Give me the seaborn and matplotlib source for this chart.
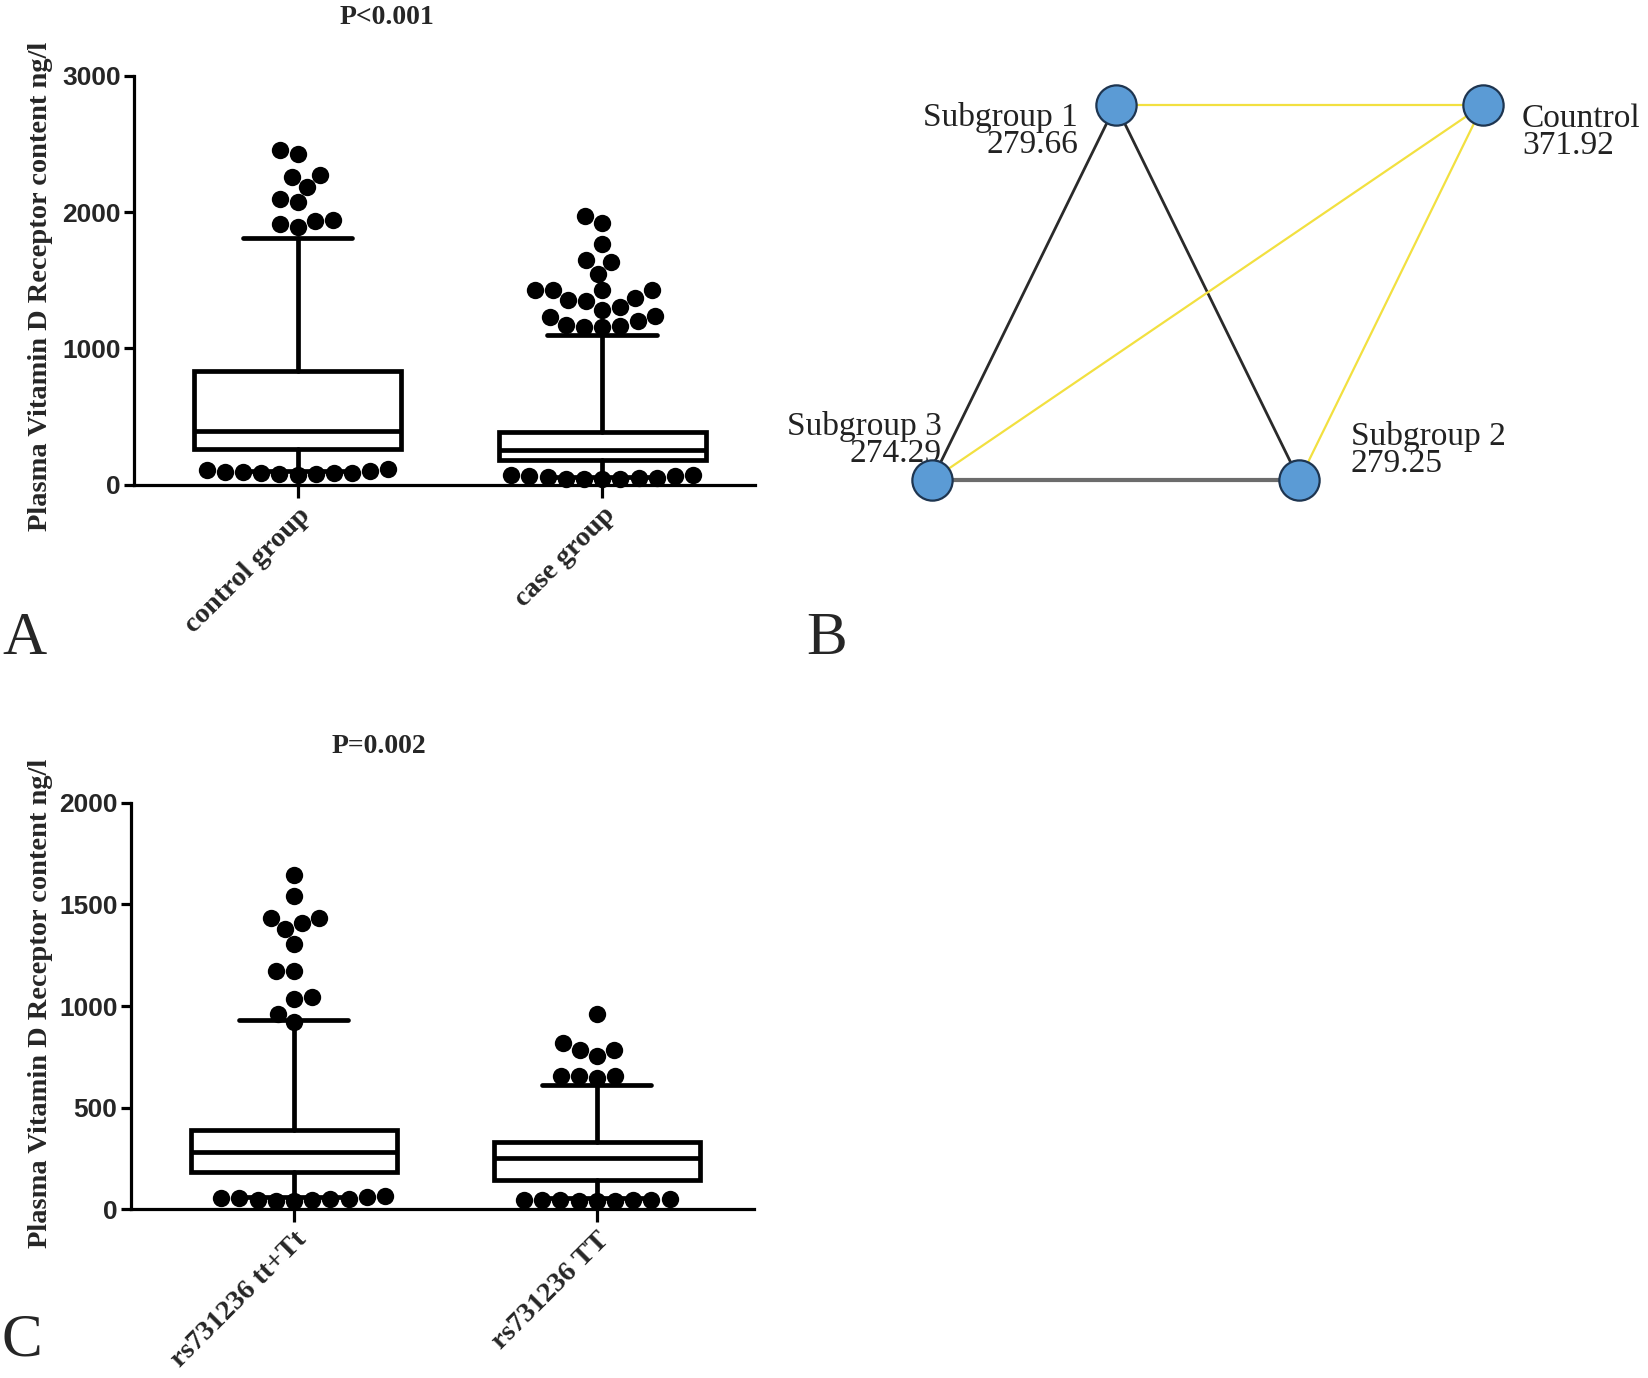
import numpy as np
import pandas as pd
import matplotlib
matplotlib.use("Agg")
import matplotlib.pyplot as plt
import seaborn as sns

# ---------------- data ----------------
# Panel A
a_groups = ["control group", "case group"]
a_whislo = [100, 55]
a_q1 = [263, 180]
a_med = [395, 252]
a_q3 = [835, 385]
a_whishi = [1811, 1101]
control_out = [2455, 2423, 2270, 2258, 2184, 2094, 2074, 1944, 1931, 1914, 1890,
               110, 88, 118, 80, 92, 75, 85, 70, 90, 98, 83]
case_out = [1972, 1922, 1767, 1645, 1636, 1548, 1431, 1431, 1428, 1425, 1373, 1358,
            1344, 1300, 1285, 1236, 1227, 1198, 1169, 1163, 1154, 1160,
            40, 55, 38, 60, 42, 68, 50, 62, 45, 72, 48]
a_title = "P<0.001"
a_yticks = [0, 1000, 2000, 3000]

# Panel C
c_groups = ["rs731236 tt+Tt", "rs731236 TT"]
c_whislo = [60, 58]
c_q1 = [185, 146]
c_med = [283, 252]
c_q3 = [392, 330]
c_whishi = [932, 612]
tt_out = [1647, 1544, 1433, 1433, 1408, 1379, 1305, 1175, 1175, 1043, 1033, 961, 922,
          48, 40, 55, 42, 62, 52, 58, 46, 66, 51]
TT_out = [961, 819, 786, 786, 753, 656, 656, 645, 656,
          45, 42, 47, 50, 44, 48, 43, 46, 45]
c_title = "P=0.002"
c_yticks = [0, 500, 1000, 1500, 2000]

ylabel = "Plasma Vitamin D Receptor content ng/l"

# Panel B (network)
node_names = ["Subgroup 3", "Subgroup 1", "Subgroup 2", "Countrol"]
node_values = ["274.29", "279.66", "279.25", "371.92"]
node_col = [0, 1, 2, 3]        # layout column
node_row = [0, 1, 0, 1]        # layout row
edges_from = ["Subgroup 1", "Subgroup 1", "Subgroup 1", "Subgroup 3", "Subgroup 2", "Subgroup 3"]
edges_to = ["Countrol", "Subgroup 3", "Subgroup 2", "Countrol", "Countrol", "Subgroup 2"]
edges_kind = ["light", "dark", "dark", "light", "light", "mid"]

# ---------------- style ----------------
sns.set_style("ticks")
plt.rcParams["font.family"] = ["Liberation Serif", "DejaVu Serif"]

W, H = 1648, 1378
fig = plt.figure(figsize=(W / 100, H / 100), dpi=100)
fig.patch.set_facecolor("white")

LW = 3.4
TICKFONT = dict(family="Liberation Sans", weight="bold", size=19)


def box_panel(rect, groups, wlo, q1, med, q3, whi, outs, yticks, xlim):
    ax = fig.add_axes(rect)
    df = pd.DataFrame({
        "group": sum([[g] * len(o) for g, o in zip(groups, outs)], []),
        "value": sum([list(o) for o in outs], []),
    })
    sns.swarmplot(data=df, x="group", y="value", order=groups, color="black",
                  size=12.5, linewidth=0, ax=ax, warn_thresh=1.0, zorder=5)
    for c in ax.collections:
        c.set_clip_on(False)
    stats = [dict(whislo=a, q1=b, med=m, q3=d, whishi=e, label=g)
             for a, b, m, d, e, g in zip(wlo, q1, med, q3, whi, groups)]
    ax.bxp(stats, positions=list(range(len(groups))), widths=0.68, capwidths=0.36,
           showfliers=False, patch_artist=True, manage_ticks=False,
           boxprops=dict(facecolor="white", edgecolor="black", linewidth=LW),
           medianprops=dict(color="black", linewidth=LW),
           whiskerprops=dict(color="black", linewidth=LW),
           capprops=dict(color="black", linewidth=LW), zorder=3)
    ax.set_ylim(yticks[0], yticks[-1])
    ax.set_xlim(*xlim)
    ax.set_yticks(yticks)
    ax.set_yticklabels([str(t) for t in yticks], fontdict=TICKFONT)
    ax.set_xticks(range(len(groups)))
    ax.set_xticklabels(groups, rotation=45, ha="right", rotation_mode="anchor",
                       fontsize=20.5, fontweight="bold", family="Liberation Serif")
    ax.set_xlabel("")
    ax.set_ylabel("")
    for s in ["top", "right"]:
        ax.spines[s].set_visible(False)
    for s in ["left", "bottom"]:
        ax.spines[s].set_linewidth(2.3)
        ax.spines[s].set_color("black")
    ax.tick_params(axis="y", length=7, width=2.3, color="black", pad=3)
    ax.tick_params(axis="x", length=9, width=2.3, color="black", pad=4)
    ax.set_facecolor("white")
    ax.grid(False)
    return ax


axA = box_panel([0.0816, 0.6483, 0.3763, 0.2967], a_groups, a_whislo, a_q1, a_med,
                a_q3, a_whishi, [control_out, case_out], a_yticks, (-0.535, 1.5))
axC = box_panel([0.0797, 0.1223, 0.378, 0.2951], c_groups, c_whislo, c_q1, c_med,
                c_q3, c_whishi, [tt_out, TT_out], c_yticks, (-0.537, 1.52))

fig.text(0.2347, 0.987, a_title, ha="center", va="center", fontsize=20, fontweight="bold")
fig.text(0.2302, 0.458, c_title, ha="center", va="center", fontsize=20, fontweight="bold")
fig.text(0.0245, 0.792, ylabel, rotation=90, ha="center", va="center", fontsize=20.5,
         fontweight="bold")
fig.text(0.0245, 0.272, ylabel, rotation=90, ha="center", va="center", fontsize=20.5,
         fontweight="bold")

# panel letters
for lx, ly, letter in [(2 / W, 1 - 654 / H, "A"), (806 / W, 1 - 654 / H, "B"),
                       (2 / W, 1 - 1356 / H, "C")]:
    fig.text(lx, ly, letter, ha="left", va="baseline", fontsize=44)

# ---------------- panel B ----------------
axB = fig.add_axes([852 / W, 1 - 540 / H, 711 / W, 495 / H])
axB.set_xlim(-80 / 183.67, 3 + 80 / 183.67)
axB.set_ylim(-0.16, 1.16)
axB.axis("off")
pos = {n: (c, r) for n, c, r in zip(node_names, node_col, node_row)}
edge_style = {"light": dict(color="#F2E040", lw=1.6),
              "dark": dict(color="#2A2A2A", lw=2.0),
              "mid": dict(color="#6C6C6C", lw=3.0)}
for f, t, k in zip(edges_from, edges_to, edges_kind):
    (x0, y0), (x1, y1) = pos[f], pos[t]
    sns.lineplot(x=[x0, x1], y=[y0, y1], ax=axB, sort=False, color=edge_style[k]["color"],
                 linewidth=edge_style[k]["lw"], zorder=2)
nx = [pos[n][0] for n in node_names]
ny = [pos[n][1] for n in node_names]
sns.scatterplot(x=nx, y=ny, ax=axB, s=29 ** 2, color="#5B9BD5", edgecolor="#1E3550",
                linewidth=1.6, zorder=4, clip_on=False)
label_offsets = {"Subgroup 1": ((-27, 2), "right", "top"),
                 "Countrol": ((28, 1), "left", "top"),
                 "Subgroup 3": ((7, 8), "right", "bottom"),
                 "Subgroup 2": ((37, 1), "left", "bottom")}
for n, v in zip(node_names, node_values):
    off, ha, va = label_offsets[n]
    axB.annotate(f"{n}\n{v}", xy=pos[n], xytext=off, textcoords="offset points",
                 ha=ha, va=va, fontsize=24, color="#222222", linespacing=0.85,
                 annotation_clip=False)

fig.savefig("out.png", dpi=100, facecolor="white")
